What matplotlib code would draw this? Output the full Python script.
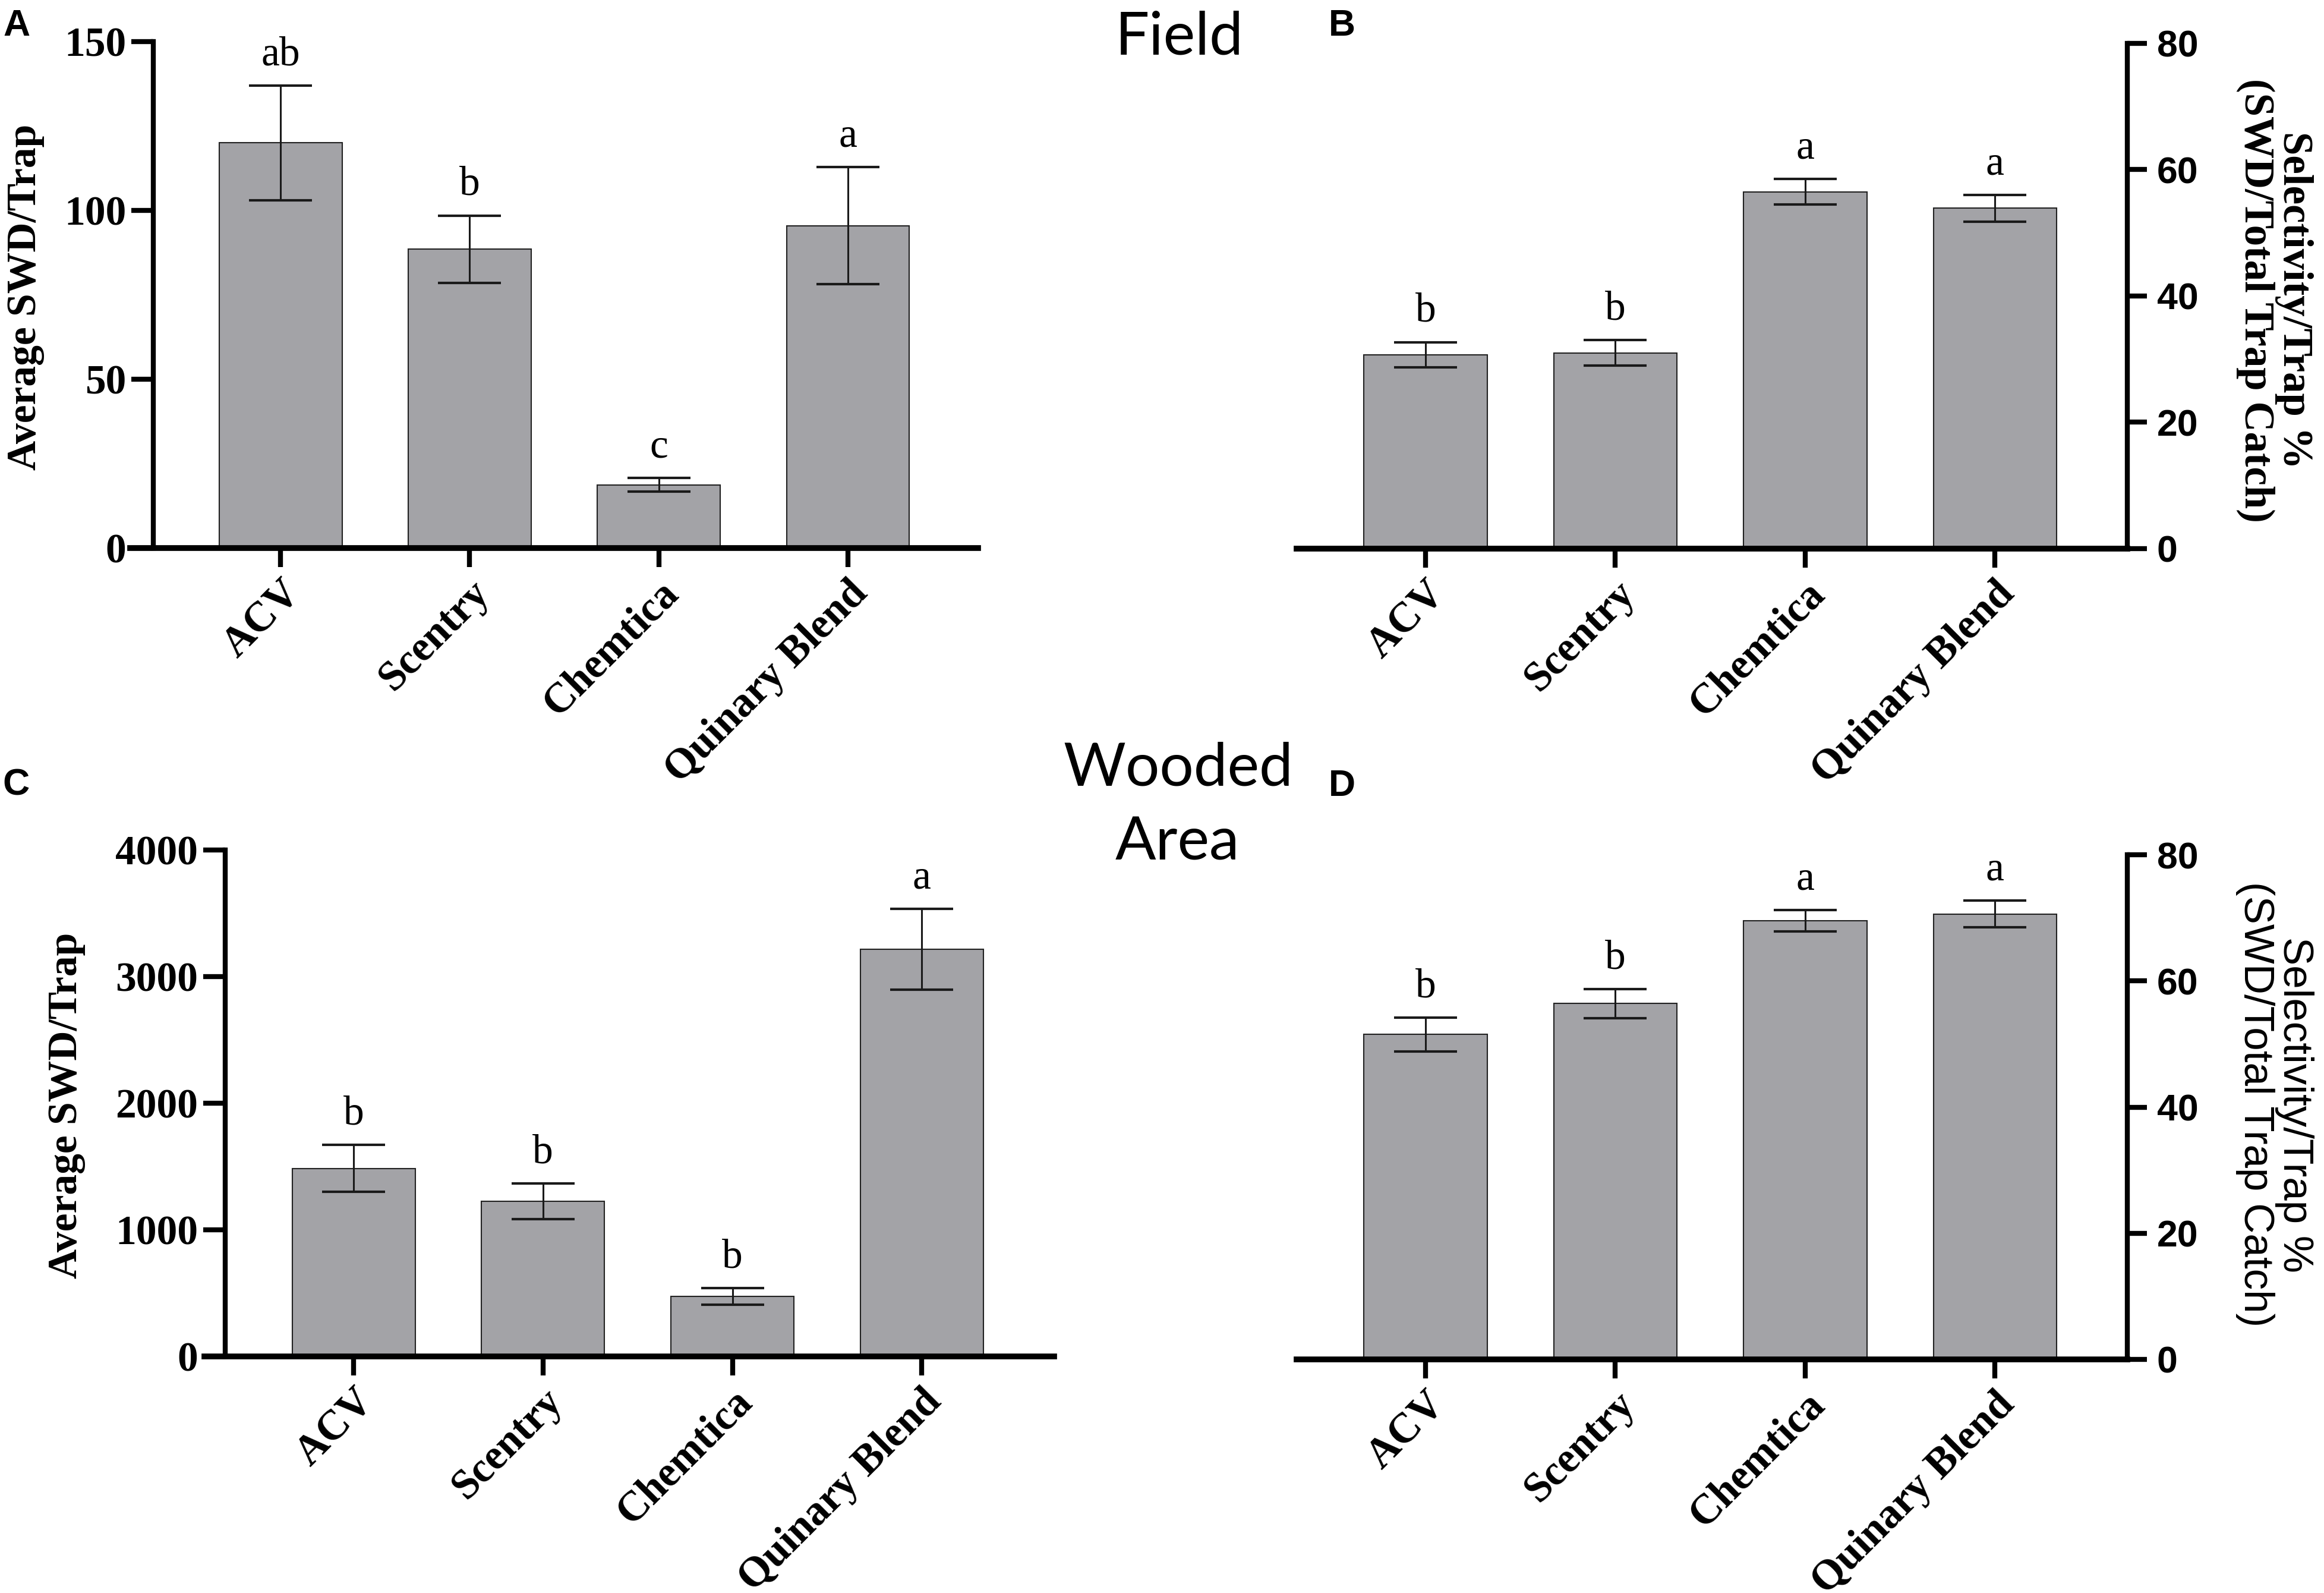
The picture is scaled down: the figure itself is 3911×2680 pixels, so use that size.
import matplotlib
matplotlib.use("Agg")
import matplotlib.pyplot as plt

# treatments and values (mean and SEM per trap)
treatments = ["ACV", "Scentry", "Chemtica", "Quinary Blend"]

field_swd = [120, 88.5, 18.7, 95.5]
field_swd_sem = [17, 10, 2, 17.4]
field_swd_letters = ["ab", "b", "c", "a"]

field_sel = [30.7, 31.0, 56.5, 53.9]
field_sel_sem = [2.0, 2.0, 2.0, 2.1]
field_sel_letters = ["b", "b", "a", "a"]

wood_swd = [1485, 1225, 475, 3215]
wood_swd_sem = [185, 140, 65, 318]
wood_swd_letters = ["b", "b", "b", "a"]

wood_sel = [51.5, 56.4, 69.5, 70.6]
wood_sel_sem = [2.7, 2.3, 1.7, 2.1]
wood_sel_letters = ["b", "b", "a", "a"]

W, H = 3911, 2680
SERIF = "Liberation Serif"
SANS = "Liberation Sans"
BAR_COLOR = "#a3a3a7"


def px_box(left, right, top, bottom):
    # pixel box -> figure fraction [l, b, w, h]
    return [left / W, 1 - bottom / H, (right - left) / W, (bottom - top) / H]


def draw_panel(ax, values, sems, letters, ymax, yticks, side, xlim, spine_x=None):
    x = list(range(len(values)))
    ax.bar(x, values, width=0.65, color=BAR_COLOR, edgecolor="#222222",
           linewidth=1.5, zorder=2)
    ax.errorbar(x, values, yerr=sems, fmt="none", ecolor="#1a1a1a",
                elinewidth=2.2, capsize=38, capthick=3, zorder=3)
    for xi, v, e, lab in zip(x, values, sems, letters):
        ax.annotate(lab, xy=(xi, v + e), xytext=(0, 25), textcoords="offset points",
                    ha="center", va="baseline", fontsize=50, family=SERIF)

    ax.set_xlim(*xlim)
    ax.set_ylim(0, ymax)
    ax.set_yticks(yticks)
    ax.set_xticks(x)
    ax.set_xticklabels(treatments, rotation=45, ha="right", rotation_mode="anchor",
                       fontsize=51, family=SERIF, fontweight="bold")
    ax.tick_params(axis="x", length=23, width=6, pad=8)

    for s in ["top", "left", "right", "bottom"]:
        ax.spines[s].set_visible(False)
    ax.spines["bottom"].set_visible(True)
    ax.spines["bottom"].set_linewidth(7)

    if side == "left":
        ax.spines["left"].set_visible(True)
        ax.spines["left"].set_linewidth(6)
        ax.spines["left"].set_position(("data", spine_x))
        ax.spines["left"].set_bounds(0, ymax)
        ax.tick_params(axis="y", length=27, width=6, pad=6)
        for t in ax.get_yticklabels():
            t.set_family(SERIF)
            t.set_fontweight("bold")
            t.set_fontsize(50)
    else:
        ax.spines["right"].set_visible(True)
        ax.spines["right"].set_linewidth(6)
        ax.yaxis.tick_right()
        ax.tick_params(axis="y", length=24, width=6, pad=12)
        for t in ax.get_yticklabels():
            t.set_family(SANS)
            t.set_fontweight("bold")
            t.set_fontsize(45)
    ax.patch.set_visible(False)


fig = plt.figure(figsize=(W / 100, H / 100), dpi=100)

axA = fig.add_axes(px_box(219, 1646, 70, 922))
draw_panel(axA, field_swd, field_swd_sem, field_swd_letters, 150, [0, 50, 100, 150],
           "left", (-0.795, 3.688), spine_x=-0.672)

axB = fig.add_axes(px_box(2182, 3580, 73, 923))
draw_panel(axB, field_sel, field_sel_sem, field_sel_letters, 80, [0, 20, 40, 60, 80],
           "right", (-0.679, 3.697))

axC = fig.add_axes(px_box(344, 1774, 1430, 2282))
draw_panel(axC, wood_swd, wood_swd_sem, wood_swd_letters, 4000,
           [0, 1000, 2000, 3000, 4000], "left", (-0.788, 3.699), spine_x=-0.678)

axD = fig.add_axes(px_box(2182, 3580, 1438, 2287))
draw_panel(axD, wood_sel, wood_sel_sem, wood_sel_letters, 80, [0, 20, 40, 60, 80],
           "right", (-0.679, 3.697))

# axis titles
fig.text(43 / W, 1 - 500 / H, "Average SWD/Trap", rotation=90, ha="center", va="center",
         fontsize=50, family=SERIF, fontweight="bold")
fig.text(112 / W, 1 - 1860 / H, "Average SWD/Trap", rotation=90, ha="center", va="center",
         fontsize=50, family=SERIF, fontweight="bold")
fig.text(3828 / W, 1 - 505 / H, "Selectivity/Trap %\n(SWD/Total Trap Catch)",
         rotation=270, ha="center", va="center", multialignment="center",
         linespacing=1.0, fontsize=51, family=SERIF, fontweight="bold")
fig.text(3828 / W, 1 - 1858 / H, "Selectivity/Trap %\n(SWD/Total Trap Catch)",
         rotation=270, ha="center", va="center", multialignment="center",
         linespacing=1.0, fontsize=51, family=SANS)

# site headings
fig.text(1985 / W, 1 - 92 / H, "Field", ha="center", va="baseline", fontsize=73,
         family="Lato")
fig.text(1983 / W, 1 - 1321 / H, "Wooded", ha="center", va="baseline", fontsize=73,
         family="Lato")
fig.text(1981 / W, 1 - 1447 / H, "Area", ha="center", va="baseline", fontsize=73,
         family="Lato")

# panel letters
for lab, px, py in [("A", 5, 14), ("B", 2236, 14), ("C", 4, 1292), ("D", 2236, 1293)]:
    fig.text(px / W, 1 - py / H, lab, ha="left", va="top", fontsize=45,
             family=SANS, fontweight="bold")

fig.savefig("out.png", dpi=100)
